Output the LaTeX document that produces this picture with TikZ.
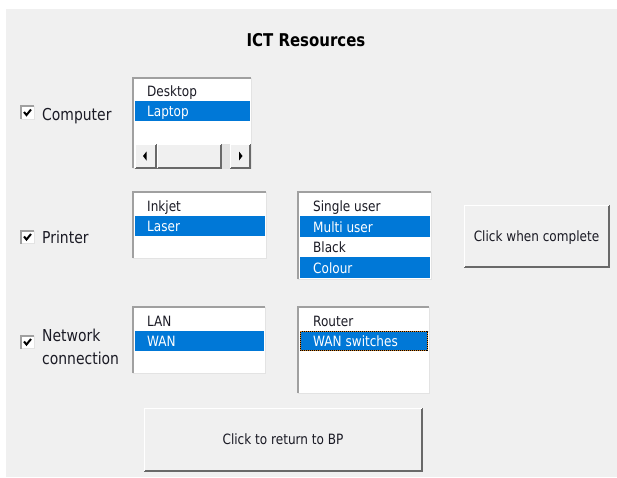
\documentclass[tikz,border=0pt]{standalone}
\usepackage{fontspec}
\setmainfont{DejaVu Sans}[FakeStretch=0.85]
\definecolor{formbg}{HTML}{F0F0F0}
\definecolor{selblue}{HTML}{0078D7}
\definecolor{edgedark}{HTML}{696969}
\definecolor{edgemid}{HTML}{A0A0A0}
\definecolor{edgelight}{HTML}{E3E3E3}
\definecolor{inktext}{HTML}{1A1A24}
\definecolor{focusorange}{HTML}{E08A2A}
\newcommand\itemfont{\fontsize{14.2}{16}\selectfont}
\newcommand\labelfont{\fontsize{16.4}{18}\selectfont}
\newcommand\titlefont{\fontsize{17.6}{20}\selectfont\bfseries}
% 3D borders of Windows form controls
\newcommand\sunkenframe[1]{%
  \draw[lightedge] (#1.north east) -- (#1.south east) -- (#1.south west);
  \draw[darkedge] (#1.south west) -- (#1.north west) -- (#1.north east);}
\newcommand\raisedframe[1]{%
  \draw[shadowedge] (#1.north east) -- (#1.south east) -- (#1.south west);
  \draw[hiliteedge] (#1.south west) -- (#1.north west) -- (#1.north east);}
\begin{document}
\begin{tikzpicture}[x=1pt,y=-1pt,
  lightedge/.style={draw=edgelight,line width=1pt},
  darkedge/.style={draw=edgemid,line width=2pt},
  shadowedge/.style={draw=edgedark,line width=2pt},
  hiliteedge/.style={draw=white,line width=1pt},
  box/.style={inner sep=0pt,outer sep=0pt,anchor=north west},
  listbox/.style={box,fill=white},
  selrow/.style={box,fill=selblue},
  button/.style={box,fill=formbg},
  itemtext/.style={anchor=base west,inner sep=0pt,text=inktext,font=\itemfont},
  seltext/.style={itemtext,text=white},
  labeltext/.style={anchor=base west,inner sep=0pt,text=inktext,font=\labelfont},
  checkbox/.style={box,fill=white,minimum width=13pt,minimum height=13pt},
  tick/.style={draw=black,line width=2pt},
  arrowglyph/.style={fill=black}]
\useasboundingbox (0,0) rectangle (617,477);
\fill[white] (0,0) rectangle (617,477);
\fill[formbg] (6,9) rectangle (617,477);

% title
\node[anchor=base,inner sep=0pt,font=\titlefont] (title) at (306,46) {ICT Resources};

% ---- Computer row ----
\node[checkbox] (cbcomp) at (21,106) {};
\sunkenframe{cbcomp}
\draw[tick] ([shift={(-3.5pt,0.5pt)}]cbcomp.center) -- ([shift={(-1pt,-2.5pt)}]cbcomp.center) -- ([shift={(3.5pt,3pt)}]cbcomp.center);
\node[labeltext] (lcomp) at (42,120) {Computer};

\node[listbox,minimum width=118pt,minimum height=90pt] (complist) at (133,78) {};
\sunkenframe{complist}
\node[itemtext] (desktop) at (147,96.5) {Desktop};
\node[selrow,minimum width=115pt,minimum height=20pt] (laptoprow) at (135,101) {};
\node[seltext] (laptop) at (147,116.5) {Laptop};
% horizontal scroll bar
\fill[edgelight] (135,144) rectangle (250,168);
\node[button,minimum width=21pt,minimum height=24pt] (sbleft) at (135,144) {};
\raisedframe{sbleft}
\node[button,minimum width=64pt,minimum height=24pt] (sbthumb) at (157,144) {};
\raisedframe{sbthumb}
\node[button,minimum width=20pt,minimum height=24pt] (sbright) at (230,144) {};
\raisedframe{sbright}
\fill[arrowglyph] ([xshift=-2.5pt]sbleft.center) -- ++(3.5,-4.5) -- ++(0,9) -- cycle;
\fill[arrowglyph] ([xshift=2.5pt]sbright.center) -- ++(-3.5,-4.5) -- ++(0,9) -- cycle;

% ---- Printer row ----
\node[checkbox] (cbprint) at (21,230.5) {};
\sunkenframe{cbprint}
\draw[tick] ([shift={(-3.5pt,0.5pt)}]cbprint.center) -- ([shift={(-1pt,-2.5pt)}]cbprint.center) -- ([shift={(3.5pt,3pt)}]cbprint.center);
\node[labeltext] (lprint) at (42,243) {Printer};

\node[listbox,minimum width=133pt,minimum height=66pt] (typelist) at (133,192) {};
\sunkenframe{typelist}
\node[itemtext] (inkjet) at (147,211.5) {Inkjet};
\node[selrow,minimum width=130pt,minimum height=20pt] (laserrow) at (135,216) {};
\node[seltext] (laser) at (147,231.5) {Laser};

\node[listbox,minimum width=133pt,minimum height=87pt] (optlist) at (298,192) {};
\sunkenframe{optlist}
\node[itemtext] (single) at (313,211.5) {Single user};
\node[selrow,minimum width=130pt,minimum height=20.5pt] (multirow) at (300,216) {};
\node[seltext] (multi) at (313,232) {Multi user};
\node[itemtext] (black) at (313,252.5) {Black};
\node[selrow,minimum width=130pt,minimum height=20.5pt] (colourrow) at (300,257) {};
\node[seltext] (colour) at (313,273) {Colour};

\node[button,minimum width=145pt,minimum height=62pt] (complete) at (464,205) {};
\raisedframe{complete}
\node[anchor=base,inner sep=0pt,text=inktext,font=\itemfont] (completetext) at ([yshift=-5pt]complete.center) {Click when complete};

% ---- Network row ----
\node[checkbox] (cbnet) at (21,335.5) {};
\sunkenframe{cbnet}
\draw[tick] ([shift={(-3.5pt,0.5pt)}]cbnet.center) -- ([shift={(-1pt,-2.5pt)}]cbnet.center) -- ([shift={(3.5pt,3pt)}]cbnet.center);
\node[labeltext] (lnet1) at (42,341) {Network};
\node[labeltext] (lnet2) at (42,364) {connection};

\node[listbox,minimum width=132pt,minimum height=66pt] (netlist) at (133,307) {};
\sunkenframe{netlist}
\node[itemtext] (lan) at (147,326) {LAN};
\node[selrow,minimum width=129pt,minimum height=20pt] (wanrow) at (135,331) {};
\node[seltext] (wan) at (147,346) {WAN};

\node[listbox,minimum width=131pt,minimum height=86pt] (devlist) at (298,307) {};
\sunkenframe{devlist}
\node[itemtext] (router) at (313,326) {Router};
\node[selrow,minimum width=128pt,minimum height=20pt] (switchrow) at (300,331) {};
\draw[focusorange,line width=1pt] ([shift={(0.5pt,-0.5pt)}]switchrow.north west) rectangle ([shift={(-0.5pt,0.5pt)}]switchrow.south east);
\draw[black,line width=1pt,dash pattern=on 1pt off 1pt] ([shift={(0.5pt,-0.5pt)}]switchrow.north west) rectangle ([shift={(-0.5pt,0.5pt)}]switchrow.south east);
\node[seltext] (switches) at (313,346) {WAN switches};

\node[button,minimum width=278pt,minimum height=63pt] (back) at (144,408) {};
\raisedframe{back}
\node[anchor=base,inner sep=0pt,text=inktext,font=\itemfont] (backtext) at ([yshift=-5pt]back.center) {Click to return to BP};
\end{tikzpicture}
\end{document}
